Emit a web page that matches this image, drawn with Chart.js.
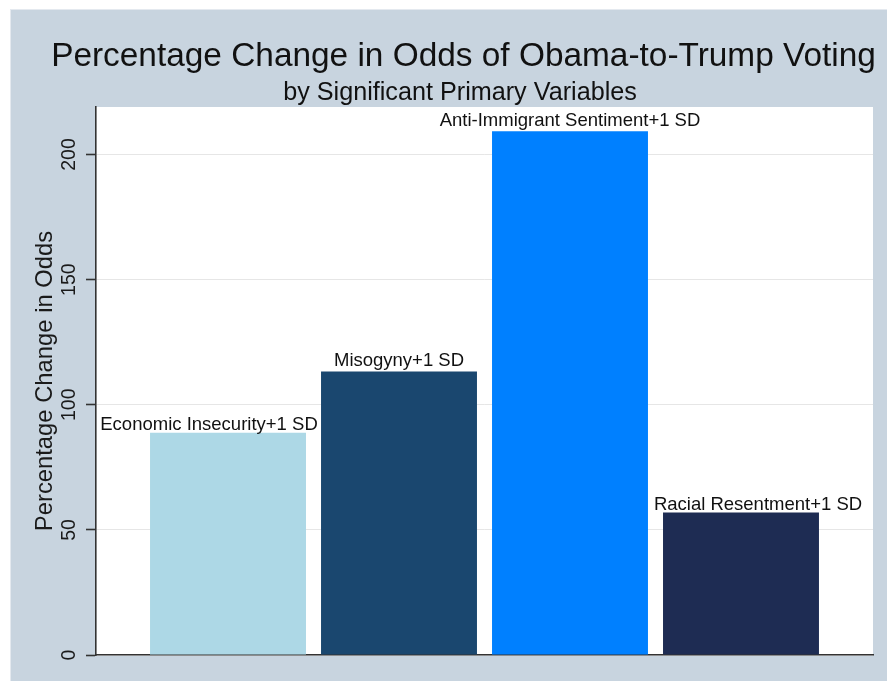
<!DOCTYPE html>
<html><head><meta charset="utf-8">
<script src="https://cdn.jsdelivr.net/npm/chart.js@4.4.1/dist/chart.umd.min.js"></script>
<style>html,body{margin:0;padding:0;background:#fff;} #wrap{width:887px;height:681px;position:relative;}</style>
</head><body><div id="wrap"><canvas id="c" width="887" height="681"></canvas></div>
<script>
// ---- data ----
const categories = ['Economic Insecurity+1 SD', 'Misogyny+1 SD', 'Anti-Immigrant Sentiment+1 SD', 'Racial Resentment+1 SD'];
const percentChange = [88.8, 113.3, 209.3, 56.9];
const barColors = ['#add8e6', '#1a476f', '#0080ff', '#1e2c53'];
const yTickValues = [0, 50, 100, 150, 200];
const titleText = 'Percentage Change in Odds of Obama-to-Trump Voting';
const subtitleText = 'by Significant Primary Variables';
const yAxisTitle = 'Percentage Change in Odds';

const FONT = "'Liberation Sans', Arial, sans-serif";
Chart.defaults.font.family = FONT;

const bgPlugin = {
  id: 'stataBg',
  beforeDraw(chart) {
    const {ctx, width, height, chartArea: a} = chart;
    ctx.save();
    ctx.fillStyle = '#ffffff';
    ctx.fillRect(0, 0, width, height);
    ctx.fillStyle = '#e4e9ef';
    ctx.fillRect(10, 9, width - 10, height - 9);
    ctx.fillStyle = '#c8d4df';
    ctx.fillRect(11, 10, width - 11, height - 10);
    ctx.fillStyle = '#ffffff';
    ctx.fillRect(a.left, a.top, a.right - a.left, a.bottom - a.top);
    ctx.restore();
  }
};

const titlePlugin = {
  id: 'stataTitles',
  afterDraw(chart, args, opts) {
    const ctx = chart.ctx;
    ctx.save();
    ctx.fillStyle = '#111111';
    ctx.textAlign = 'center';
    ctx.textBaseline = 'alphabetic';
    ctx.font = opts.titleSize + 'px ' + FONT;
    ctx.fillText(titleText, opts.titleX, opts.titleBaseline);
    ctx.font = opts.subSize + 'px ' + FONT;
    ctx.fillText(subtitleText, opts.subX, opts.subBaseline);
    ctx.restore();
  }
};

const barLabelPlugin = {
  id: 'barLabels',
  afterDatasetsDraw(chart, args, opts) {
    const ctx = chart.ctx;
    const meta = chart.getDatasetMeta(0);
    ctx.save();
    ctx.fillStyle = '#111111';
    ctx.font = opts.size + 'px ' + FONT;
    ctx.textAlign = 'center';
    ctx.textBaseline = 'alphabetic';
    meta.data.forEach((el, i) => {
      ctx.fillText(categories[i], el.x + opts.dx[i], el.y - opts.gap[i]);
    });
    ctx.restore();
  }
};

new Chart(document.getElementById('c'), {
  type: 'bar',
  data: {
    datasets: [{
      data: percentChange.map((v, i) => ({x: i + 1, y: v})),
      backgroundColor: barColors,
      borderWidth: 0,
      categoryPercentage: 0.912,
      barPercentage: 1
    }]
  },
  options: {
    responsive: false,
    devicePixelRatio: 1,
    animation: false,
    layout: {padding: {top: 107, right: 14, bottom: 26, left: 0}},
    plugins: {
      legend: {display: false},
      tooltip: {enabled: false},
      stataTitles: {titleX: 463.5, titleSize: 33.4, titleBaseline: 66, subX: 460, subSize: 25.2, subBaseline: 99.5},
      barLabels: {size: 18.5, dx: [-19, 0, 0, 17], gap: [2.5, 5.5, 5.5, 2.5]}
    },
    scales: {
      x: {
        type: 'linear',
        min: 0.228,
        max: 4.772,
        offset: false,
        ticks: {display: false},
        grid: {display: true, drawOnChartArea: false, drawTicks: false, offset: false},
        border: {display: true, color: '#333333', width: 1.6},
        afterBuildTicks: (s) => { s.ticks = categories.map((c, i) => ({value: i + 1})); },
        afterFit: (s) => { s.height = 0; }
      },
      y: {
        min: 0,
        max: 219,
        afterBuildTicks: (s) => { s.ticks = yTickValues.map(v => ({value: v})); },
        afterFit: (s) => { s.width = 96; },
        ticks: {
          minRotation: 90, maxRotation: 90,
          crossAlign: 'center',
          padding: 0,
          color: '#1a1a1a',
          font: {size: 19.5}
        },
        grid: {color: '#e6e6e6', lineWidth: 1, tickColor: '#333333', tickLength: 10, tickWidth: 1.6},
        border: {display: true, color: '#333333', width: 1.6},
        title: {display: true, text: yAxisTitle, color: '#1a1a1a', font: {size: 23.8}, padding: {top: 31, bottom: 0}}
      }
    }
  },
  plugins: [bgPlugin, titlePlugin, barLabelPlugin]
});
</script>
</body></html>
